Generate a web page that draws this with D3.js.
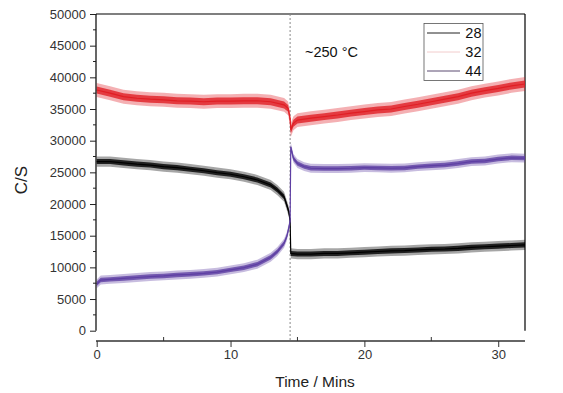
<!DOCTYPE html>
<html><head><meta charset="utf-8">
<script src="https://cdn.jsdelivr.net/npm/d3@7"></script>
<style>
html,body{margin:0;padding:0;background:#fff;}
svg{display:block;font-family:"Liberation Sans",Arial,sans-serif;}
</style></head>
<body><svg id="c" width="563" height="393"></svg>
<script>
// ---- data ----
const seriesNames = ["28", "32", "44"];
const seriesColors = ["#000000", "#e01e24", "#5e3fa3"];
const legendColors = ["#222222", "#f2cccc", "#5a4a70"];
const noiseHalfWidth = [800, 1100, 700]; // visible noise band (C/S)

const time28 = [0,1,2,3,4,5,6,7,8,9,10,11,12,13,13.5,14,14.2,14.35,14.45,14.5,15,16,17,18,19,20,21,22,23,24,25,26,27,28,29,30,31,32];
const vals28 = [26700,26700,26500,26300,26150,25900,25750,25500,25250,24950,24700,24300,23800,23000,22200,21150,19850,18800,17400,12200,12100,12100,12200,12200,12300,12400,12500,12600,12650,12750,12850,12900,13000,13150,13250,13350,13450,13550];

const time32 = [0,1,2,3,4,5,6,7,8,9,10,11,12,13,14,14.3,14.45,14.5,14.7,15,16,17,18,19,20,21,22,23,24,25,26,27,28,29,30,31,32];
const vals32 = [38000,37500,36950,36700,36550,36450,36300,36250,36150,36250,36250,36300,36300,36150,35650,35100,33500,31700,32750,33250,33550,33800,34050,34350,34600,34850,35000,35400,35750,36150,36550,36950,37500,37900,38250,38650,38950];

const time44 = [0,0.3,1,2,3,4,5,6,7,8,9,10,11,12,13,13.5,14,14.2,14.35,14.45,14.5,14.7,15,15.5,16,17,18,19,20,21,22,23,24,25,26,27,28,29,30,31,32];
const vals44 = [7400,8000,8100,8250,8400,8550,8650,8800,8900,9050,9250,9600,9950,10500,11600,12500,13800,14850,16200,17300,29000,27200,26400,25900,25650,25600,25600,25650,25750,25700,25650,25700,25900,26050,26150,26400,26700,26800,27100,27300,27250];

const yTicks = [0,5000,10000,15000,20000,25000,30000,35000,40000,45000,50000];
const xTicks = [0,10,20,30];
const transitionTime = 14.45;
const annotation = "~250 °C";

// ---- chart ----
const svg = d3.select("#c");
const x = d3.scaleLinear().domain([0,32]).range([96.7,525]);
const y = d3.scaleLinear().domain([0,50000]).range([330.7,14]);
const xAxisY = 341;

const series = [
  {name:seriesNames[0], t:time28, v:vals28, color:seriesColors[0], lc:legendColors[0], n:noiseHalfWidth[0]},
  {name:seriesNames[1], t:time32, v:vals32, color:seriesColors[1], lc:legendColors[1], n:noiseHalfWidth[1]},
  {name:seriesNames[2], t:time44, v:vals44, color:seriesColors[2], lc:legendColors[2], n:noiseHalfWidth[2]}
];

// frame: top and right lines
svg.append("line").attr("x1",96).attr("x2",525).attr("y1",14).attr("y2",14).attr("stroke","#000").attr("stroke-width",1.2);
svg.append("line").attr("x1",525).attr("x2",525).attr("y1",14).attr("y2",330.7).attr("stroke","#000").attr("stroke-width",1.2);

// transition dotted line
svg.append("line").attr("x1",x(transitionTime)).attr("x2",x(transitionTime)).attr("y1",14).attr("y2",xAxisY)
  .attr("stroke","#888").attr("stroke-width",1).attr("stroke-dasharray","2,2");

// series
series.forEach(s=>{
  const pts = s.t.map((t,i)=>({t, v:s.v[i]}));
  const area = d3.area().x(d=>x(d.t)).y0(d=>y(d.v - s.n)).y1(d=>y(d.v + s.n));
  svg.append("path").datum(pts).attr("d",area).attr("fill",s.color).attr("opacity",0.35);
  const area2 = d3.area().x(d=>x(d.t)).y0(d=>y(d.v - s.n*0.5)).y1(d=>y(d.v + s.n*0.5));
  svg.append("path").datum(pts).attr("d",area2).attr("fill",s.color).attr("opacity",0.8);
  const line = d3.line().x(d=>x(d.t)).y(d=>y(d.v));
  svg.append("path").datum(pts).attr("d",line).attr("fill","none").attr("stroke",s.color).attr("stroke-width",1.2);
});

// y axis
const yAxis = d3.axisLeft(y).tickValues(yTicks).tickSize(6).tickPadding(4).tickFormat(d3.format("d"));
const gy = svg.append("g").attr("transform","translate(96,0)").call(yAxis);
gy.select(".domain").attr("stroke","#000").attr("stroke-width",1.2).attr("d","M0,14V330.7");
gy.selectAll("text").attr("font-size",13).attr("fill","#333").attr("font-family","Liberation Sans, Arial, sans-serif");
gy.selectAll(".tick line").attr("stroke","#222");
// minor y ticks
const yMinor = yTicks.slice(0,-1).map(d=>d+2500);
gy.selectAll(".minor").data(yMinor).enter().append("line").attr("class","minor")
  .attr("x1",-3).attr("x2",0).attr("y1",d=>y(d)).attr("y2",d=>y(d)).attr("stroke","#222");

// x axis
const xAxis = d3.axisBottom(x).tickValues(xTicks).tickSize(6).tickPadding(3).tickFormat(d3.format("d"));
const gx = svg.append("g").attr("transform",`translate(0,${xAxisY})`).call(xAxis);
gx.select(".domain").attr("stroke","#333").attr("stroke-width",1.4).attr("d","M96,0H525");
gx.selectAll("text").attr("font-size",13).attr("fill","#333").attr("font-family","Liberation Sans, Arial, sans-serif");
gx.selectAll(".tick line").attr("stroke","#333");
const xMinor = [5,15,25];
gx.selectAll(".minor").data(xMinor).enter().append("line").attr("class","minor")
  .attr("x1",d=>x(d)).attr("x2",d=>x(d)).attr("y1",0).attr("y2",-4).attr("stroke","#333");

// axis titles
svg.append("text").attr("x",315).attr("y",387).attr("text-anchor","middle").attr("font-size",15.5).attr("fill","#222").text("Time / Mins");
svg.append("text").attr("transform","translate(27,180) rotate(-90)").attr("text-anchor","middle").attr("font-size",17).attr("fill","#222").text("C/S");

// annotation
svg.append("text").attr("x",305).attr("y",57).attr("font-size",14.5).attr("fill","#111").text(annotation);

// legend
const lg = svg.append("g");
lg.append("rect").attr("x",424).attr("y",23.5).attr("width",59).attr("height",57).attr("fill","#fff").attr("stroke","#555").attr("stroke-width",0.8);
series.forEach((s,i)=>{
  const yy = 33 + i*19;
  lg.append("line").attr("x1",427).attr("x2",460).attr("y1",yy).attr("y2",yy).attr("stroke",s.lc).attr("stroke-width",1);
  lg.append("text").attr("x",481.5).attr("y",yy+5).attr("text-anchor","end").attr("font-size",14.5).attr("fill","#111").text(s.name);
});
</script></body></html>
